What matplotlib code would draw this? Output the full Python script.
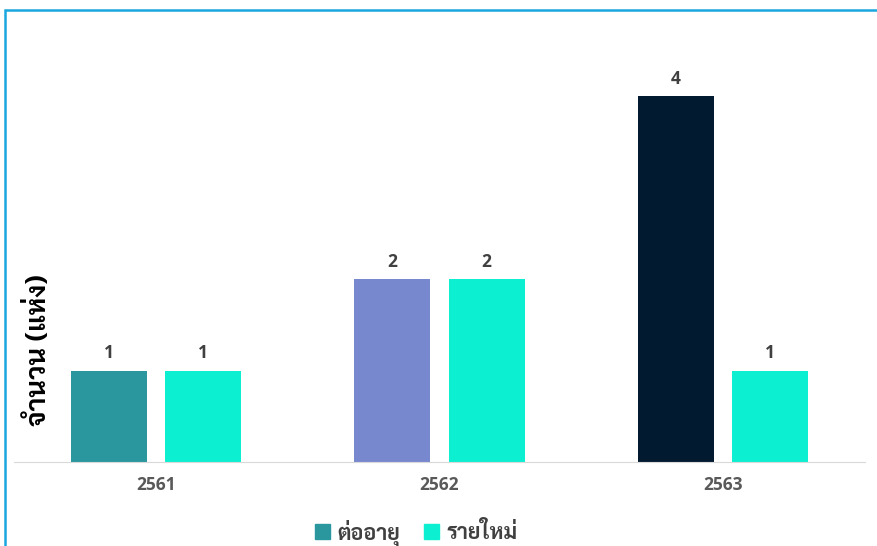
import matplotlib
matplotlib.use("Agg")
import matplotlib.pyplot as plt
from matplotlib.patches import Patch, Rectangle
import numpy as np

years = ["2561", "2562", "2563"]
renew = [1, 2, 4]
new = [1, 2, 1]
series_names = ["ต่ออายุ", "รายใหม่"]
renew_colors = ["#2A979F", "#7788CF", "#021A30"]
new_color = "#0CEFD1"

thai = ["Sarabun", "DejaVu Sans"]
num = ["Open Sans", "DejaVu Sans"]

fig = plt.figure(figsize=(8.78, 5.46), dpi=100)
ax = fig.add_axes([14/878, 1 - 462/546, 851/878, 411.75/546])

x = np.arange(len(years))
w = 0.268
off = 0.166
b1 = ax.bar(x - off, renew, w, color=renew_colors)
b2 = ax.bar(x + off, new, w, color=new_color)

for bars in (b1, b2):
    for r in bars:
        ax.annotate(f"{r.get_height():g}", (r.get_x() + r.get_width()/2, r.get_height()),
                    xytext=(0, 6), textcoords="offset points", ha="center", va="bottom",
                    fontsize=12.5, fontweight="bold", color="#404040", family=num)

ax.set_xlim(-0.5, 2.5)
ax.set_ylim(0, 4.5)
ax.set_xticks(x)
ax.set_xticklabels(years, fontsize=12.5, fontweight="bold", color="#595959", family=num)
ax.tick_params(axis="x", length=0, pad=10)
ax.set_yticks([])
for s in ["top", "right", "left"]:
    ax.spines[s].set_visible(False)
ax.spines["bottom"].set_color("#D9D9D9")

fig.text(39/878, 1 - 350/546, "จำนวน (แห่ง)", rotation=90, ha="center", va="center",
         fontsize=19.5, fontweight="bold", color="black", family=thai)

handles = [Patch(color=renew_colors[0]), Patch(color=new_color)]
fig.legend(handles, series_names, loc="center", bbox_to_anchor=(416/878, 1 - 533/546),
           ncol=2, frameon=False, handlelength=0.7, handleheight=0.7, handletextpad=0.35,
           columnspacing=1.1, prop={"family": thai, "size": 15.5, "weight": "bold"},
           labelcolor="#404040")

# chart frame (only top and left edges visible)
fig.patches.append(Rectangle((5/878, -0.1), 1.2, 1 - 10/546 + 0.1, transform=fig.transFigure,
                             fill=False, edgecolor="#1AA7E0", linewidth=1.8))

fig.savefig("out.png", dpi=100)
